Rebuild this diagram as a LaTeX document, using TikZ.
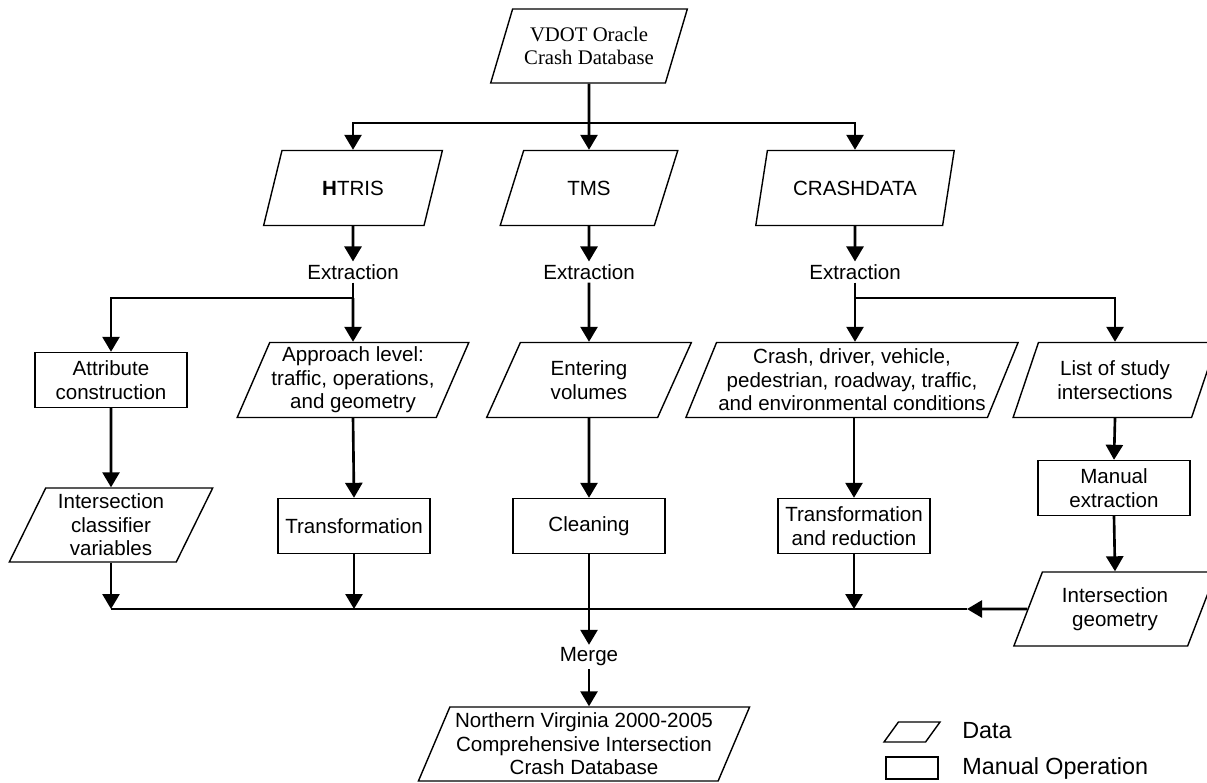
\documentclass[tikz,border=0pt]{standalone}
\usepackage{fontspec}
\setmainfont{Liberation Sans}
\newfontfamily\timesfont{Liberation Serif}
\usetikzlibrary{shapes.geometric,arrows.meta}

\begin{document}
\begin{tikzpicture}[x=0.02cm, y=-0.02cm,
    font=\fontsize{11.7}{13.4}\selectfont,
    datos/.style={trapezium, trapezium left angle=65, trapezium right angle=115,
      trapezium stretches=true, draw, line width=0.8pt, align=center,
      inner sep=1pt, minimum height=1.5cm},
    manual/.style={rectangle, draw, line width=0.8pt, align=center,
      minimum width=3.04cm, minimum height=1.1cm, inner sep=1pt},
    etiqueta/.style={inner sep=1.5pt},
    flecha/.style={-{Triangle[width=0.34cm,length=0.3cm]}, line width=1.5pt},
    linea/.style={line width=1.5pt}]
        \useasboundingbox (0,0) rectangle (1207,782);

        % Base de datos de origen
        \node[datos, minimum width=3.96cm, minimum height=1.48cm,
          font=\timesfont\fontsize{11.8}{13}\selectfont] (vdot) at (589,46) {VDOT Oracle\\Crash Database};
        \coordinate (reparto) at (589,123);

        % Sistemas
        \node[datos, minimum width=3.58cm] (htris) at (353,188) {\textbf{H}TRIS};
        \node[datos, minimum width=3.56cm] (tms) at (589,188) {TMS};
        \node[datos, minimum width=4cm] (crashdata) at (855,188) {CRASHDATA};

        % Extracciones
        \node[etiqueta] (ext1) at (353,272) {Extraction};
        \node[etiqueta] (ext2) at (589,272) {Extraction};
        \node[etiqueta] (ext3) at (855,272) {Extraction};
        \coordinate (bif1) at (353,298);
        \coordinate (bif3) at (855,298);

        % Segunda fila
        \node[manual] (attr) at (111,380) {Attribute\\construction};
        \node[datos, minimum width=4.4cm] (approach) at (353,380) {Approach level:\\traffic, operations,\\and geometry};
        \node[datos, minimum width=4.1cm] (entering) at (589,380) {Entering\\volumes};
        \node[datos, minimum width=6.48cm] (conditions) at (852,380) {Crash, driver, vehicle,\\pedestrian, roadway, traffic,\\and environmental conditions};
        \node[datos, minimum width=4.08cm] (studylist) at (1115,380) {List of study\\intersections};

        % Tercera fila
        \node[datos, minimum width=4.1cm, minimum height=1.48cm] (classifier) at (111,525) {Intersection\\classifier\\variables};
        \node[manual] (transformation) at (354,526) {Transformation};
        \node[manual] (cleaning) at (589,526) {Cleaning};
        \node[manual] (reduction) at (854,526) {Transformation\\and reduction};
        \node[manual] (manualext) at (1114,488) {Manual\\extraction};
        \node[datos, minimum width=4.08cm, minimum height=1.48cm] (geometry) at (1115,609) {Intersection\\geometry};
        \coordinate (busL) at (111,609);
        \coordinate (punta) at (967,609);

        % Union final
        \node[etiqueta] (merge) at (589,657) {Merge};
        \node[datos, minimum width=6.64cm, minimum height=1.48cm] (final) at (584,744) {Northern Virginia 2000-2005\\Comprehensive Intersection\\Crash Database};

        % Leyenda
        \node[trapezium, trapezium left angle=62, trapezium right angle=118, trapezium stretches=true,
          draw, line width=0.8pt, minimum width=1.12cm, minimum height=0.4cm, inner sep=1pt] (legdata) at (912,732) {};
        \node[draw, line width=0.8pt, minimum width=1.04cm, minimum height=0.44cm, inner sep=1pt] (legop) at (912,768) {};
        \node[anchor=west, inner sep=0pt, font=\fontsize{13.3}{15}\selectfont] (legdatatxt) at (962,731) {Data};
        \node[anchor=west, inner sep=0pt, font=\fontsize{13.3}{15}\selectfont] (legoptxt) at (962,768) {Manual Operation};

        % Conexiones superiores
        \draw[linea] (vdot.south) -- (reparto);
        \draw[flecha] (reparto) -| (htris.north);
        \draw[flecha] (reparto) -- (tms.north);
        \draw[flecha] (reparto) -| (crashdata.north);
        \draw[flecha] (htris.south) -- (ext1.north);
        \draw[flecha] (tms.south) -- (ext2.north);
        \draw[flecha] (crashdata.south) -- (ext3.north);

        % Ramas de extraccion
        \draw[linea] (ext1.south) -- (bif1);
        \draw[flecha] (bif1) -- (approach.north);
        \draw[flecha] (bif1) -| (attr.north);
        \draw[flecha] (ext2.south) -- (entering.north);
        \draw[linea] (ext3.south) -- (bif3);
        \draw[flecha] (bif3) -- (bif3 |- conditions.north);
        \draw[flecha] (bif3) -| (studylist.north);

        % Procesos
        \draw[flecha] (attr.south) -- (classifier.north);
        \draw[flecha] (approach.south) -- (transformation.north);
        \draw[flecha] (entering.south) -- (cleaning.north);
        \draw[flecha] (conditions.south -| reduction.north) -- (reduction.north);
        \draw[flecha] (studylist.south) -- (manualext.north);
        \draw[flecha] (manualext.south) -- (geometry.north);

        % Linea colectora
        \draw[flecha] (classifier.south) -- (classifier.south |- busL);
        \draw[flecha] (transformation.south) -- (transformation.south |- busL);
        \draw[flecha] (reduction.south) -- (reduction.south |- busL);
        \draw[flecha] (geometry.west) -- (punta);
        \draw[linea] (punta) -- (busL);
        \draw[flecha] (cleaning.south) -- (merge.north);
        \draw[flecha] (merge.south) -- (merge.south |- final.north);
\end{tikzpicture}
\end{document}
